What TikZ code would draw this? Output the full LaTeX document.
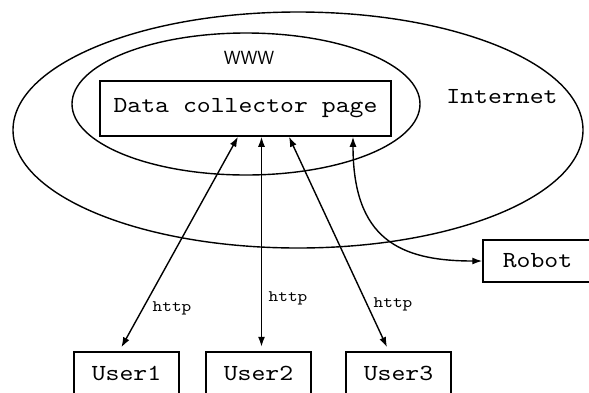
\documentclass[tikz,border=0pt]{standalone}
\usepackage{fontspec}
\usetikzlibrary{arrows.meta}
\newfontfamily\typefont{lmmono10-regular}[Extension=.otf, FakeStretch=1.15]

\begin{document}
\begin{tikzpicture}[x=1pt,y=-1pt,
  word/.style={font=\typefont\fontsize{23}{27}\selectfont},
  box/.style={word, draw, line width=1.5pt, inner sep=0pt},
  proto/.style={font=\typefont\fontsize{16}{19}\selectfont},
  link/.style={line width=1.4pt, shorten >=4.5pt,
    {Latex[length=10pt,width=7pt]}-{Latex[length=10pt,width=7pt]}}]
\useasboundingbox (0,0) rectangle (589,392);
% internet and www
\draw[line width=1.4pt] (298,130) ellipse [x radius=285, y radius=118];
\draw[line width=1.4pt] (246,104) ellipse [x radius=174, y radius=71];
\node (www) at (249,58) {\sffamily\fontsize{19}{22}\selectfont WWW};
\node[word] (inet) at (502,97) {Internet};
% boxes
\node[box, minimum width=291pt, minimum height=55pt] (dcp) at (245.5,108.5) {Data collector page};
\node[box, minimum width=109pt, minimum height=42pt] (robot) at (537.5,261) {Robot};
\node[box, minimum width=105pt, minimum height=42pt] (user1) at (126.5,373) {User1};
\node[box, minimum width=105pt, minimum height=42pt] (user2) at (258.5,373) {User2};
\node[box, minimum width=105pt, minimum height=42pt] (user3) at (398.5,373) {User3};
% requests
\draw[link] ([xshift=-7.5pt]dcp.south) -- ([xshift=-7.3pt]user1.north);
\draw[link] ([xshift=16pt]dcp.south) -- ([xshift=3pt]user2.north);
\draw[link] ([xshift=43.5pt]dcp.south) -- ([xshift=-9.6pt]user3.north);
\draw[link, shorten >=0pt] ([xshift=107.5pt]dcp.south) .. controls +(0,102) and +(-83,0) .. (robot.west);
\node[proto] (http1) at (172,308) {http};
\node[proto] (http2) at (288,298) {http};
\node[proto] (http3) at (393,304) {http};
\end{tikzpicture}
\end{document}
